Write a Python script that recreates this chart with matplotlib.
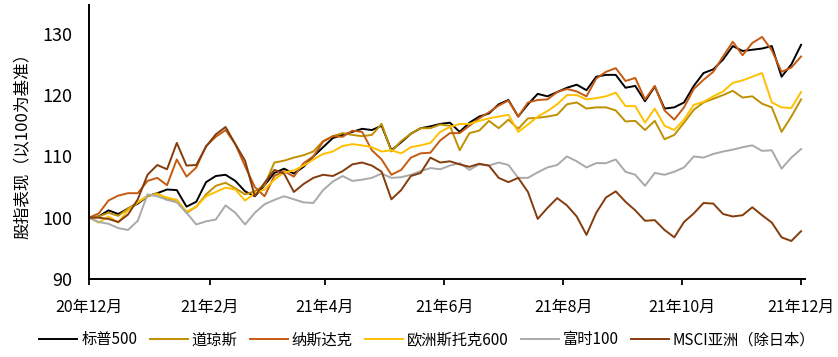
import matplotlib

matplotlib.use("Agg")
import matplotlib.dates as mdates
import matplotlib.pyplot as plt
import pandas as pd

plt.rcParams["font.family"] = ["Noto Sans CJK SC", "DejaVu Sans"]

# sample dates, one every 5 days from 2020-12-01 to 2021-12-01
dates = pd.date_range("2020-12-01", "2021-12-01", freq="5D")

sp500 = [
    100, 100.2, 101.2, 100.6, 101.5, 102.3, 103.5, 104, 104.6, 104.5,
    101.8, 102.6, 105.8, 106.8, 107, 106, 104.3, 103.5, 105.3, 107.3,
    108, 107.2, 108.3, 110, 111.5, 113, 113.5, 114, 114.5, 114.3,
    115, 111, 112.3, 113.7, 114.6, 114.9, 115.3, 115.5, 114, 115.5,
    116.5, 117, 118.5, 119.2, 116.5, 118.5, 120.2, 119.8, 120.5, 121.2,
    121.7, 120.8, 123, 123.3, 123.3, 121.2, 121.5, 119, 121.4, 117.8,
    118, 118.8, 121.5, 123.6, 124.2, 125.8, 128, 127.2, 127.4, 127.6,
    128, 123, 125, 128.2,
]
dow = [
    100, 100.2, 100.8, 100.3, 101.5, 102.5, 103.5, 104, 103, 102.9,
    100.8, 101.8, 103.8, 105.2, 105.7, 104.8, 103.8, 104.3, 105.3, 109,
    109.3, 109.8, 110.2, 110.8, 112.5, 113.3, 113.8, 113.5, 113.3, 113.5,
    115.3, 110.8, 112.5, 113.7, 114.6, 114.6, 115.2, 115, 111, 113.8,
    114.2, 115.8, 114.6, 116, 114.5, 116.2, 116.3, 116.5, 116.8, 118.5,
    118.8, 117.8, 118, 118, 117.5, 115.7, 115.8, 114.3, 115.8, 112.8,
    113.5, 115.5, 117.6, 118.8, 119.4, 120, 120.7, 119.6, 119.8, 118.6,
    118, 114, 116.5, 119.3,
]
nasdaq = [
    100, 100.7, 102.8, 103.6, 104, 104, 106, 106.5, 105.3, 109.5,
    106.7, 108.2, 111.7, 113.2, 114.3, 112, 108.4, 105, 103.5, 106.8,
    107.6, 106.7, 108.9, 110, 112.4, 113.3, 113.2, 114.2, 114, 111,
    109.5, 107, 107.8, 109.8, 110.5, 110.6, 112.6, 113.8, 113.8, 115,
    116.2, 117.2, 118.3, 119.1, 116.5, 118.8, 119.2, 119.3, 120.5, 121,
    120.6, 119.8, 122.7, 123.8, 124.4, 122.3, 122.8, 119.3, 121.5, 117.5,
    116, 118, 121, 122.5, 123.8, 126.3, 128.7, 126.5, 128.5, 129.5,
    127.3, 123.8, 124.5, 126.3,
]
stoxx600 = [
    100, 99.2, 100.2, 99.2, 101.2, 102.5, 103.6, 103.8, 103.3, 102.9,
    101, 101.8, 103.5, 104.2, 104.9, 104.6, 102.8, 104, 104.6, 106.2,
    107.4, 107.7, 108.5, 109.5, 110.4, 110.8, 111.7, 112, 111.8, 111.5,
    110.8, 111, 110.5, 111.5, 111.8, 112.2, 114, 114.8, 115.3, 115.3,
    115.8, 116.2, 116.5, 116.8, 114, 115.2, 116.5, 117.4, 118.5, 120,
    120, 119.3, 119.5, 119.8, 120.4, 118.2, 118.2, 115.5, 117.8, 115,
    114.3, 116, 118.4, 118.9, 119.8, 120.6, 122, 122.4, 123, 123.6,
    118.8, 118, 117.9, 120.5,
]
ftse100 = [
    100, 99.3, 99, 98.3, 98, 99.5, 103.8, 103.5, 102.9, 102.5,
    100.8, 98.9, 99.4, 99.7, 102, 100.8, 98.9, 100.8, 102.2, 102.9,
    103.5, 103, 102.5, 102.4, 104.5, 105.9, 106.8, 106, 106.2, 106.5,
    107.2, 106.5, 106.6, 107, 107.6, 108.1, 107.9, 108.5, 108.9, 107.8,
    108.7, 108.5, 109, 108.6, 106.5, 106.5, 107.4, 108.2, 108.6, 110,
    109.2, 108.2, 108.9, 108.9, 109.5, 107.5, 107, 105.2, 107.3, 107,
    107.5, 108.2, 110, 109.8, 110.4, 110.8, 111.1, 111.5, 111.8, 110.9,
    111, 108, 109.8, 111.2,
]
msci_asia = [
    100, 100, 99.8, 99.3, 100.5, 103, 107, 108.6, 107.9, 112.2,
    108.5, 108.6, 111.6, 113.6, 114.8, 112, 109.3, 103.5, 105.7, 107.8,
    107.2, 104.2, 105.5, 106.5, 107, 106.8, 107.6, 108.7, 109, 108.5,
    107.5, 103, 104.5, 106.8, 107.3, 109.8, 109, 109.2, 108.7, 108.3,
    108.8, 108.5, 106.5, 105.8, 106.5, 104.2, 99.8, 101.6, 103.2, 102,
    100.2, 97.2, 100.8, 103.3, 104.3, 102.6, 101.2, 99.5, 99.6, 98,
    96.8, 99.3, 100.7, 102.4, 102.3, 100.6, 100.2, 100.4, 101.7, 100.4,
    99.2, 96.8, 96.2, 97.8,
]

series_names = ["标普500", "道琼斯", "纳斯达克", "欧洲斯托克600", "富时100", "MSCI亚洲（除日本）"]
series_values = [sp500, dow, nasdaq, stoxx600, ftse100, msci_asia]
colors = ["#000000", "#BF9000", "#C55A11", "#FFC000", "#A9A9A9", "#843C0C"]

tick_dates = pd.to_datetime(
    ["2020-12-01", "2021-02-01", "2021-04-01", "2021-06-01", "2021-08-01", "2021-10-01", "2021-12-01"]
)
tick_labels = ["20年12月", "21年2月", "21年4月", "21年6月", "21年8月", "21年10月", "21年12月"]

fig = plt.figure(figsize=(8.38, 3.57), dpi=100)
ax = fig.add_axes([0.1062, 0.2185, 0.8544, 0.7675])

for name, values, color in zip(series_names, series_values, colors):
    ax.plot(dates, values, color=color, linewidth=1.4, label=name)

ax.set_xlim(pd.Timestamp("2020-12-01"), pd.Timestamp("2021-12-03"))
ax.set_ylim(90, 134.7)
ax.set_yticks([90, 100, 110, 120, 130])
ax.set_xticks(tick_dates)
ax.set_xticklabels(tick_labels)
ax.tick_params(axis="y", length=0, pad=12, labelsize=13)
ax.tick_params(axis="x", length=4, width=1.3, direction="out", pad=10, labelsize=11.5)
ax.set_ylabel("股指表现（以100为基准）", fontsize=12, labelpad=8)

for side in ["top", "right"]:
    ax.spines[side].set_visible(False)
for side in ["left", "bottom"]:
    ax.spines[side].set_linewidth(1.4)
    ax.spines[side].set_color("black")

fig.legend(
    loc="center",
    bbox_to_anchor=(0.51, 0.048),
    ncol=6,
    frameon=False,
    fontsize=11,
    handlelength=2.5,
    handletextpad=0.25,
    columnspacing=0.8,
)

fig.savefig("out.png", dpi=100)
